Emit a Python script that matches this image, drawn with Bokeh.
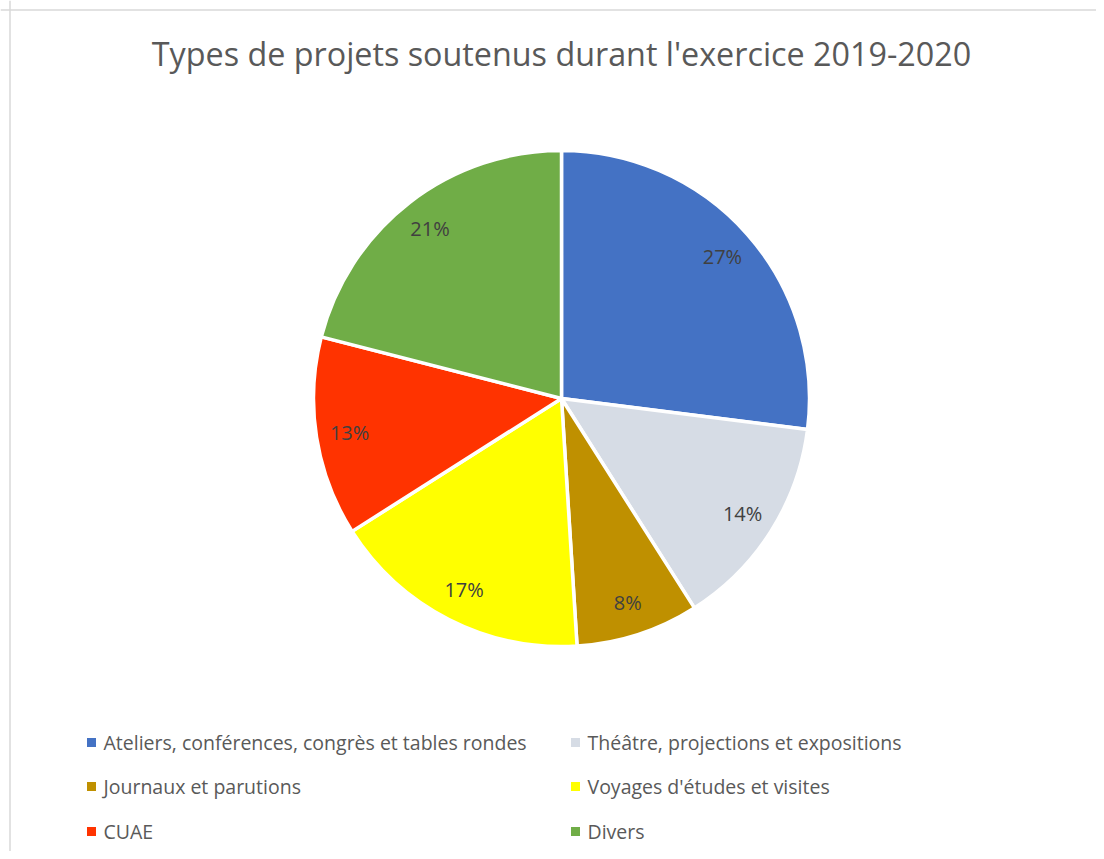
import numpy as np
from bokeh.plotting import figure
from bokeh.models import Range1d, Span, ColumnDataSource
from bokeh.core.properties import value
from bokeh.embed import file_html
from bokeh.resources import INLINE

# ---- data ----
categories = [
    "Ateliers, conférences, congrès et tables rondes",
    "Théâtre, projections et expositions",
    "Journaux et parutions",
    "Voyages d'études et visites",
    "CUAE",
    "Divers",
]
shares = [27, 14, 8, 17, 13, 21]
colors = ["#4472C4", "#D6DCE5", "#BF9000", "#FFFF00", "#FF3300", "#70AD47"]
title_text = "Types de projets soutenus durant l'exercice 2019-2020"

W, H = 1096, 851
FONT = "Open Sans"

p = figure(width=W, height=H, output_backend="svg", toolbar_location=None,
           x_range=Range1d(0, W), y_range=Range1d(0, H), min_border=0)
p.axis.visible = False
p.grid.visible = False
p.outline_line_color = None
p.background_fill_color = "white"
p.border_fill_color = "white"

def px(x_img):
    return x_img

def py(y_img):
    return H - y_img

# chart frame (left/top edges visible)
p.add_layout(Span(location=px(9.5), dimension="height", line_color="#D9D9D9", line_width=1.5))
p.add_layout(Span(location=py(9.5), dimension="width", line_color="#D9D9D9", line_width=1.5))

# ---- pie ----
cx, cy, R = px(561), py(398), 248
vals = np.array(shares, dtype=float)
frac = vals / vals.sum()
cum = np.concatenate([[0], np.cumsum(frac)])
start = np.pi / 2 - 2 * np.pi * cum[:-1]
end = np.pi / 2 - 2 * np.pi * cum[1:]
src = ColumnDataSource(dict(start=start, end=end, color=colors))
p.wedge(x=cx, y=cy, radius=R, start_angle="end", end_angle="start",
        fill_color="color", line_color="white", line_width=3.5, source=src)

mid = (start + end) / 2
lr = 0.865 * R
lbl = ColumnDataSource(dict(x=cx + lr * np.cos(mid), y=cy + lr * np.sin(mid),
                            t=[f"{s}%" for s in shares]))
p.text(x="x", y="y", text="t", source=lbl, text_align="center", text_baseline="middle",
       text_font=value(FONT), text_font_size="20px", text_color="#404040")

# ---- title ----
p.text(x=[px(561)], y=[py(52)], text=[title_text], text_align="center", text_baseline="middle",
       text_font=value(FONT), text_font_size="32.3px", text_color="#595959")

# ---- legend (manual, 2 columns) ----
n = len(categories)
col = np.arange(n) % 2
row = np.arange(n) // 2
sq_x = np.where(col == 0, px(91), px(575))
row_y = np.array([py(742), py(786), py(831)])[row]
p.scatter(x=sq_x, y=row_y, marker="square", size=9, fill_color=colors, line_color=None)
p.text(x=sq_x + 12, y=row_y, text=categories, text_align="left", text_baseline="middle",
       text_font=value(FONT), text_font_size="19.5px", text_color="#595959")

open("out.html", "w").write(file_html(p, INLINE))
